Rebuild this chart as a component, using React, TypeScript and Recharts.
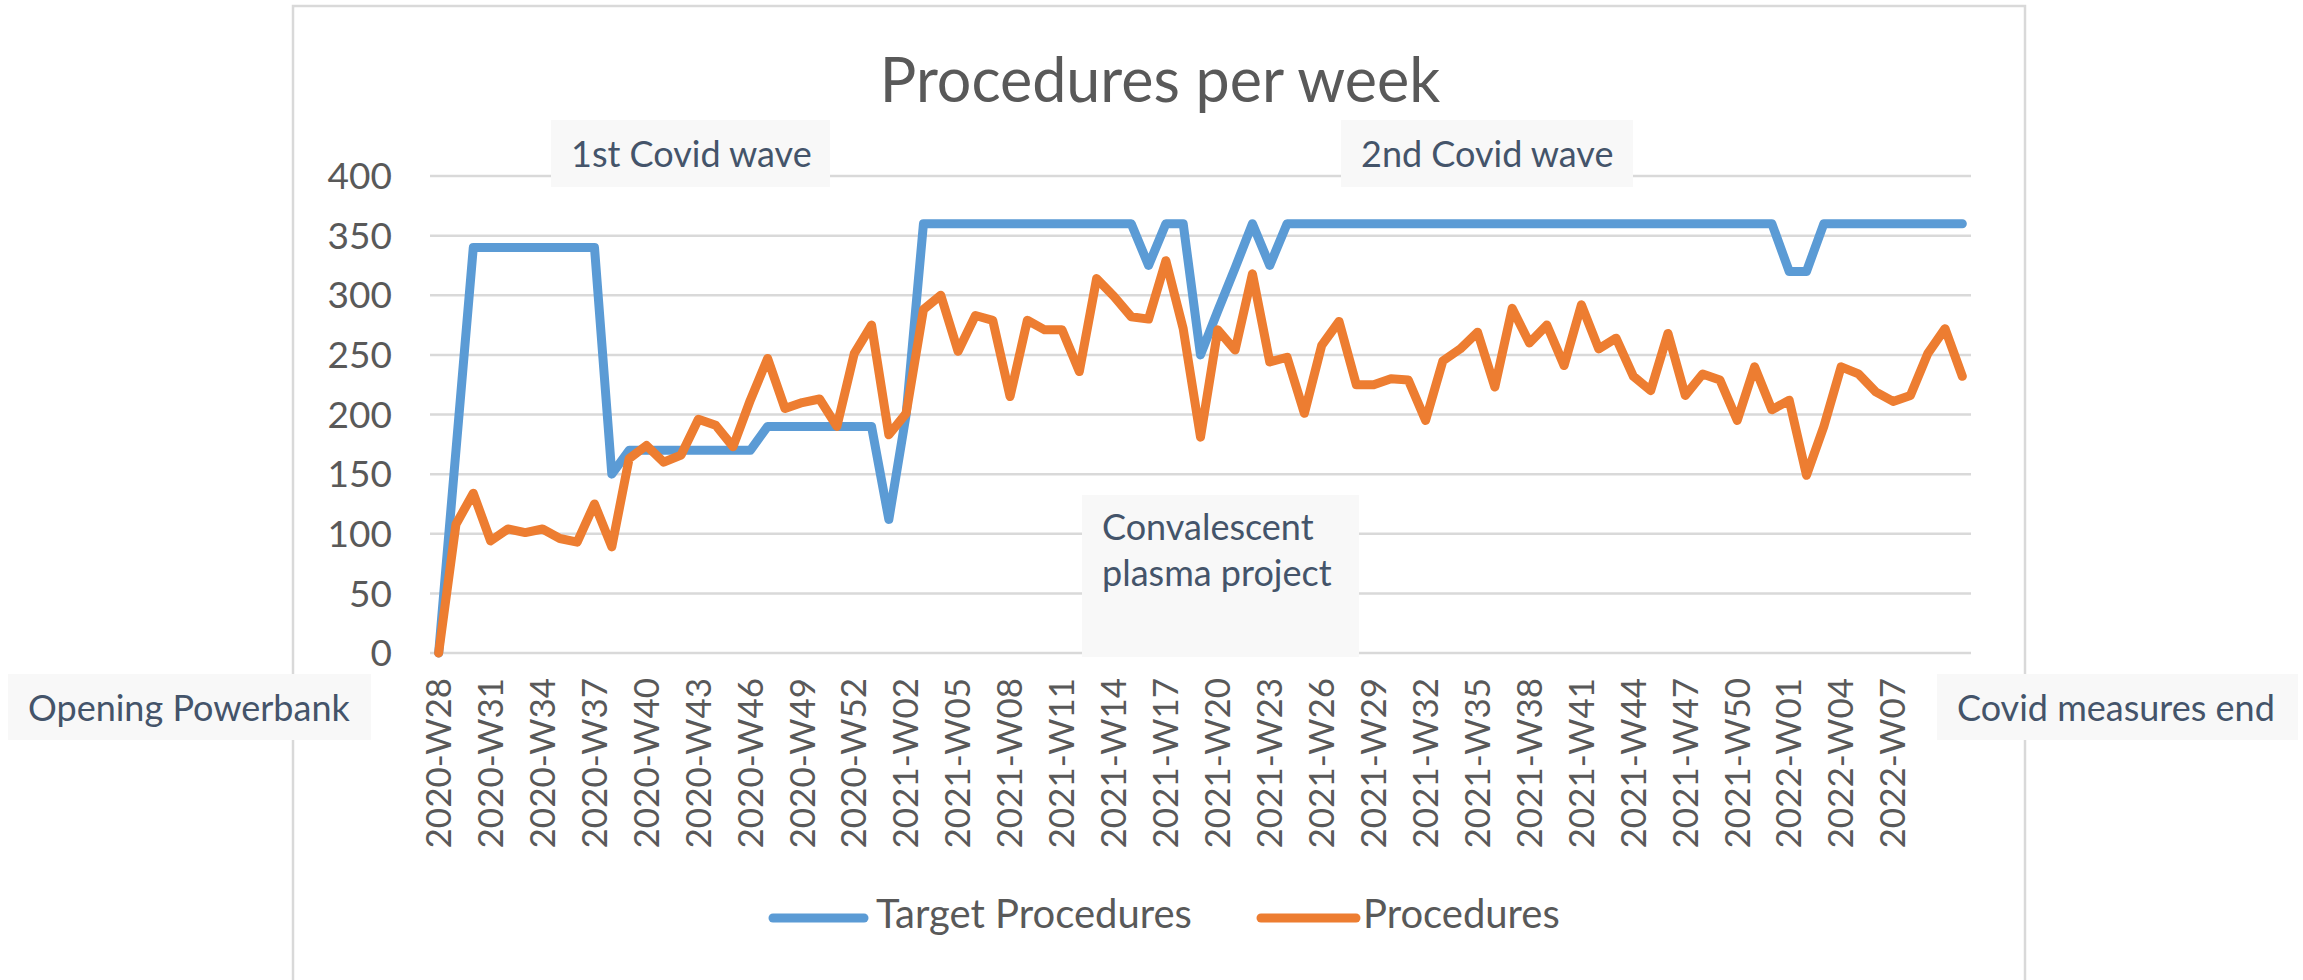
import React from 'react';
import { LineChart, Line, XAxis, YAxis, CartesianGrid } from 'recharts';

const weeks = [
  '2020-W28', '2020-W29', '2020-W30', '2020-W31', '2020-W32', '2020-W33', '2020-W34', '2020-W35', '2020-W36', '2020-W37',
  '2020-W38', '2020-W39', '2020-W40', '2020-W41', '2020-W42', '2020-W43', '2020-W44', '2020-W45', '2020-W46', '2020-W47',
  '2020-W48', '2020-W49', '2020-W50', '2020-W51', '2020-W52', '2020-W53',
  '2021-W01', '2021-W02', '2021-W03', '2021-W04', '2021-W05', '2021-W06', '2021-W07', '2021-W08', '2021-W09', '2021-W10',
  '2021-W11', '2021-W12', '2021-W13', '2021-W14', '2021-W15', '2021-W16', '2021-W17', '2021-W18', '2021-W19', '2021-W20',
  '2021-W21', '2021-W22', '2021-W23', '2021-W24', '2021-W25', '2021-W26', '2021-W27', '2021-W28', '2021-W29', '2021-W30',
  '2021-W31', '2021-W32', '2021-W33', '2021-W34', '2021-W35', '2021-W36', '2021-W37', '2021-W38', '2021-W39', '2021-W40',
  '2021-W41', '2021-W42', '2021-W43', '2021-W44', '2021-W45', '2021-W46', '2021-W47', '2021-W48', '2021-W49', '2021-W50',
  '2021-W51', '2021-W52',
  '2022-W01', '2022-W02', '2022-W03', '2022-W04', '2022-W05', '2022-W06', '2022-W07', '2022-W08', '2022-W09', '2022-W10',
  '2022-W11',
];

// labels shown on the x axis (every third week)
const weekTicks = [
  '2020-W28', '2020-W31', '2020-W34', '2020-W37', '2020-W40', '2020-W43', '2020-W46', '2020-W49', '2020-W52',
  '2021-W02', '2021-W05', '2021-W08', '2021-W11', '2021-W14', '2021-W17', '2021-W20', '2021-W23', '2021-W26',
  '2021-W29', '2021-W32', '2021-W35', '2021-W38', '2021-W41', '2021-W44', '2021-W47', '2021-W50',
  '2022-W01', '2022-W04', '2022-W07',
];

const targetProcedures = [
  0, 170, 340, 340, 340, 340, 340, 340, 340, 340,
  150, 170, 170, 170, 170, 170, 170, 170, 170, 190,
  190, 190, 190, 190, 190, 190, 112, 200, 360, 360,
  360, 360, 360, 360, 360, 360, 360, 360, 360, 360,
  360, 325, 360, 360, 250, 287, 323, 360, 325, 360,
  360, 360, 360, 360, 360, 360, 360, 360, 360, 360,
  360, 360, 360, 360, 360, 360, 360, 360, 360, 360,
  360, 360, 360, 360, 360, 360, 360, 360, 320, 320,
  360, 360, 360, 360, 360, 360, 360, 360, 360,
];

const procedures = [
  0, 108, 134, 94, 104, 101, 104, 96, 93, 125,
  89, 163, 174, 160, 166, 196, 191, 173, 212, 247,
  205, 210, 213, 190, 251, 275, 183, 201, 288, 300,
  253, 283, 279, 215, 279, 271, 271, 236, 314, 299,
  282, 280, 329, 272, 181, 271, 254, 318, 244, 248,
  201, 258, 278, 225, 225, 230, 229, 195, 245, 255,
  269, 223, 289, 260, 275, 241, 292, 255, 264, 232,
  220, 268, 216, 234, 229, 195, 240, 204, 212, 149,
  190, 240, 234, 219, 211, 216, 251, 272, 232,
];

const yTicks = [0, 50, 100, 150, 200, 250, 300, 350, 400];

const series = [
  { key: 'target', name: 'Target Procedures', color: '#5B9BD5' },
  { key: 'procedures', name: 'Procedures', color: '#ED7D31' },
];

const notes = [
  { lines: ['1st Covid wave'], x: 551, y: 120, w: 279, h: 67 },
  { lines: ['2nd Covid wave'], x: 1341, y: 120, w: 292, h: 67 },
  { lines: ['Convalescent', 'plasma project'], x: 1082, y: 495, w: 277, h: 162 },
  { lines: ['Opening Powerbank'], x: 8, y: 674, w: 363, h: 66 },
  { lines: ['Covid measures end'], x: 1937, y: 674, w: 361, h: 66 },
];

const data = weeks.map((week, i) => ({
  week,
  target: targetProcedures[i],
  procedures: procedures[i],
}));

const FONT = 'Lato, "Open Sans", sans-serif';
const GREY = '#595959';

function WeekTick(props: any) {
  const { x, y, payload } = props;
  return (
    <text
      x={x}
      y={y}
      transform={`rotate(-90, ${x}, ${y})`}
      textAnchor="end"
      dy="0.35em"
      fontSize={35}
      fontFamily={FONT}
      fill={GREY}
    >
      {payload.value}
    </text>
  );
}

export default function App() {
  return (
    <div style={{ position: 'absolute', left: 0, top: 0, width: 2303, height: 980, overflow: 'hidden', background: '#fff', fontFamily: FONT }}>
      <LineChart width={2303} height={980} data={data} margin={{ top: 176, right: 332, bottom: 127, left: 330 }}>
        <CartesianGrid vertical={false} stroke="#d9d9d9" strokeWidth={2.5} />
        <XAxis
          dataKey="week"
          ticks={weekTicks}
          interval={0}
          height={200}
          tickLine={false}
          axisLine={false}
          tickSize={0}
          tickMargin={25}
          padding={{ left: 8.66, right: 8.66 }}
          tick={<WeekTick />}
        />
        <YAxis
          width={100}
          domain={[0, 400]}
          ticks={yTicks}
          interval={0}
          tickLine={false}
          axisLine={false}
          tickSize={0}
          tickMargin={38}
          tick={{ fontSize: 37, fill: GREY, fontFamily: FONT }}
        />
        {series.map((s) => (
          <Line
            key={s.key}
            type="linear"
            dataKey={s.key}
            name={s.name}
            stroke={s.color}
            strokeWidth={9}
            strokeLinejoin="round"
            strokeLinecap="round"
            dot={false}
            isAnimationActive={false}
          />
        ))}
      </LineChart>

      <svg width={2303} height={980} style={{ position: 'absolute', left: 0, top: 0, pointerEvents: 'none' }}>
        {/* chart frame */}
        <path d="M293,990 V6 H2025 V990" fill="none" stroke="#d9d9d9" strokeWidth={2.5} />

        <text x={1160} y={102} textAnchor="middle" fontSize={61} fontFamily={FONT} fill={GREY}>
          Procedures per week
        </text>

        {notes.map((n, i) => (
          <g key={i}>
            <rect x={n.x} y={n.y} width={n.w} height={n.h} fill="#f8f8f8" />
            {n.lines.map((line, j) => (
              <text key={j} x={n.x + 20} y={n.y + (n.lines.length > 1 ? 45 + j * 46 : 47)} fontSize={36} fontFamily={FONT} fill="#44546A">
                {line}
              </text>
            ))}
          </g>
        ))}

        {/* legend */}
        <line x1={773} y1={918} x2={864} y2={918} stroke={series[0].color} strokeWidth={9} strokeLinecap="round" />
        <text x={876} y={928} fontSize={40} fontFamily={FONT} fill={GREY}>{series[0].name}</text>
        <line x1={1261} y1={918} x2={1356} y2={918} stroke={series[1].color} strokeWidth={9} strokeLinecap="round" />
        <text x={1363} y={928} fontSize={40} fontFamily={FONT} fill={GREY}>{series[1].name}</text>
      </svg>
    </div>
  );
}
